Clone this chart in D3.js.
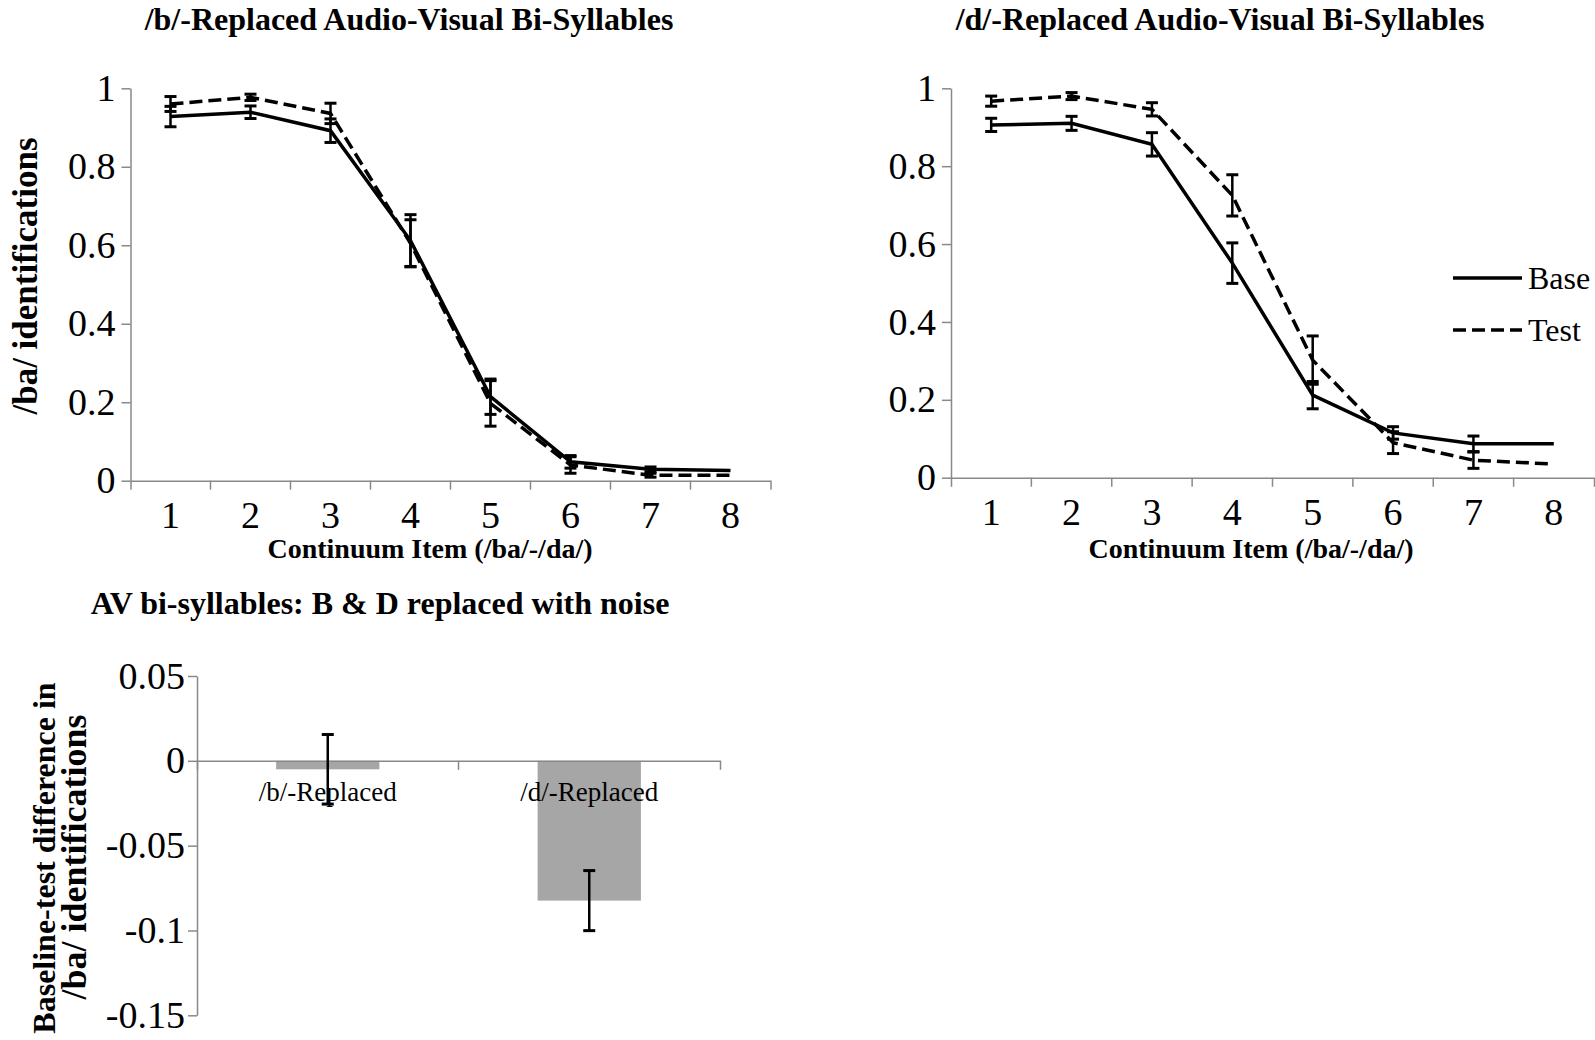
<!DOCTYPE html>
<html>
<head>
<meta charset="utf-8">
<script src="https://cdn.jsdelivr.net/npm/d3@7"></script>
<style>
  body { margin: 0; background: #fff; }
  svg { display: block; }
</style>
</head>
<body>
<div class="container"></div>
<script>
const w = 1595;
const h = 1040;
const serif = "'Liberation Serif', 'Times New Roman', serif";
const axisGrey = '#898989';
const barGrey = '#a6a6a6';
const tickFont = 38;

// line panels: continuum items 1..8
const items = ['1', '2', '3', '4', '5', '6', '7', '8'];
const yTicks = [0, 0.2, 0.4, 0.6, 0.8, 1];
const seriesNames = ['Base', 'Test'];

// /b/-replaced
const bBase = [0.928, 0.939, 0.892, 0.612, 0.214, 0.048, 0.029, 0.026];
const bBaseErr = [0.026, 0.016, 0.030, 0.066, 0.045, 0.016, 0.006, 0];
const bTest = [0.960, 0.977, 0.936, 0.605, 0.197, 0.040, 0.014, 0.014];
const bTestErr = [0.019, 0.008, 0.026, 0.060, 0.058, 0.021, 0.005, 0];

// /d/-replaced
const dBase = [0.906, 0.910, 0.856, 0.551, 0.212, 0.115, 0.087, 0.087];
const dBaseErr = [0.017, 0.018, 0.030, 0.052, 0.035, 0.016, 0.020, 0];
const dTest = [0.967, 0.980, 0.946, 0.725, 0.302, 0.090, 0.045, 0.035];
const dTestErr = [0.013, 0.009, 0.017, 0.053, 0.062, 0.028, 0.021, 0];

// bar panel: baseline - test difference
const barCats = ['/b/-Replaced', '/d/-Replaced'];
const diffVals = [-0.005, -0.0824];
const diffErr = [0.0205, 0.0177];
const diffTicks = [-0.15, -0.1, -0.05, 0, 0.05];

let svg = null;

const fmt = (d) => String(+d.toFixed(2));

function setSvg() {
  svg = d3.select('.container').append('svg')
    .attr('width', w)
    .attr('height', h)
    .attr('font-family', serif);
}

function styleAxis(g) {
  g.attr('font-family', serif).attr('font-size', tickFont);
  g.select('.domain').attr('stroke', axisGrey).attr('stroke-width', 1.5);
  g.selectAll('.tick line').attr('stroke', axisGrey).attr('stroke-width', 1.5);
  g.selectAll('.tick text').attr('fill', '#000');
}

function addText(txt, x, y, size, bold, rotate) {
  const t = svg.append('text')
    .text(txt)
    .attr('text-anchor', 'middle')
    .attr('font-size', size)
    .attr('font-weight', bold ? 'bold' : 'normal')
    .attr('fill', '#000');
  if (rotate) t.attr('transform', `translate(${x},${y}) rotate(-90)`);
  else t.attr('x', x).attr('y', y);
  return t;
}

function drawErrors(g, x, y, vals, errs) {
  const data = vals.map((v, i) => ({ c: items[i], v, e: errs[i] })).filter((d) => d.e > 0);
  const cx = (d) => x(d.c) + x.bandwidth() / 2;
  g.selectAll(null).data(data).join('line')
    .attr('x1', cx).attr('x2', cx)
    .attr('y1', (d) => y(d.v + d.e)).attr('y2', (d) => y(d.v - d.e))
    .attr('stroke', '#000').attr('stroke-width', 2.5);
  [1, -1].forEach((s) => {
    g.selectAll(null).data(data).join('line')
      .attr('x1', (d) => cx(d) - 6).attr('x2', (d) => cx(d) + 6)
      .attr('y1', (d) => y(d.v + s * d.e)).attr('y2', (d) => y(d.v + s * d.e))
      .attr('stroke', '#000').attr('stroke-width', 3);
  });
}

function drawLinePanel(p) {
  const x = d3.scaleBand().domain(items).range([p.x0, p.x1]);
  const y = d3.scaleLinear().domain([0, 1]).range([p.y0, p.y1]);
  const g = svg.append('g');

  const yAxis = g.append('g')
    .attr('transform', `translate(${p.x0},0)`)
    .call(d3.axisLeft(y).tickValues(yTicks).tickSize(9).tickSizeOuter(0).tickPadding(6).tickFormat(fmt));
  styleAxis(yAxis);

  const xAxis = g.append('g')
    .attr('transform', `translate(0,${p.y0})`)
    .call(d3.axisBottom(x).tickSize(0).tickSizeOuter(9).tickPadding(20));
  styleAxis(xAxis);
  xAxis.selectAll('.between').data(items.slice(1)).join('line')
    .attr('class', 'between')
    .attr('x1', (d) => x(d)).attr('x2', (d) => x(d))
    .attr('y1', 0).attr('y2', 9)
    .attr('stroke', axisGrey).attr('stroke-width', 1.5);

  const line = d3.line()
    .x((d, i) => x(items[i]) + x.bandwidth() / 2)
    .y((d) => y(d));

  drawErrors(g, x, y, p.base, p.baseErr);
  g.append('path').datum(p.base)
    .attr('d', line).attr('fill', 'none')
    .attr('stroke', '#000').attr('stroke-width', 3.5);

  drawErrors(g, x, y, p.test, p.testErr);
  g.append('path').datum(p.test)
    .attr('d', line).attr('fill', 'none')
    .attr('stroke', '#000').attr('stroke-width', 3.5)
    .attr('stroke-dasharray', '13,6');

  addText(p.title, p.titleX, 30, 32, true);
  addText('Continuum Item (/ba/-/da/)', p.xLabelX, 558, 28, true);
  if (p.yLabel) addText('/ba/ identifications', 37, 276, 35, true, true);

  if (p.legend) {
    const lg = svg.append('g').attr('transform', 'translate(1453,278)');
    const rows = lg.selectAll('g').data(seriesNames).join('g')
      .attr('transform', (d, i) => `translate(0,${i * 52})`);
    rows.append('line')
      .attr('x1', 0).attr('x2', 69).attr('y1', 0).attr('y2', 0)
      .attr('stroke', '#000').attr('stroke-width', 3.5)
      .attr('stroke-dasharray', (d, i) => (i ? '13,6' : null));
    rows.append('text')
      .text((d) => d)
      .attr('x', 75).attr('y', 11)
      .attr('font-size', 32);
  }
}

function drawBarPanel() {
  const x = d3.scaleBand().domain(barCats).range([197, 720]);
  const y = d3.scaleLinear().domain([-0.15, 0.05]).range([1015.3, 676]);
  const g = svg.append('g');
  const bw = x.bandwidth() * 0.395;
  const cx = (d) => x(d) + x.bandwidth() / 2;

  const yAxis = g.append('g')
    .attr('transform', 'translate(197,0)')
    .call(d3.axisLeft(y).tickValues(diffTicks).tickSize(9).tickSizeOuter(0).tickPadding(3).tickFormat(fmt));
  styleAxis(yAxis);

  g.selectAll('rect').data(barCats).join('rect')
    .attr('x', (d) => cx(d) - bw / 2)
    .attr('width', bw)
    .attr('y', y(0))
    .attr('height', (d, i) => y(diffVals[i]) - y(0))
    .attr('fill', barGrey);

  const xAxis = g.append('g')
    .attr('transform', `translate(0,${y(0)})`)
    .call(d3.axisBottom(x).tickSize(0).tickSizeOuter(9).tickFormat(''));
  styleAxis(xAxis);
  xAxis.selectAll('.between').data(barCats.slice(1)).join('line')
    .attr('class', 'between')
    .attr('x1', (d) => x(d)).attr('x2', (d) => x(d))
    .attr('y1', 0).attr('y2', 9)
    .attr('stroke', axisGrey).attr('stroke-width', 1.5);

  g.selectAll('.cat').data(barCats).join('text')
    .attr('class', 'cat')
    .text((d) => d)
    .attr('x', cx)
    .attr('y', y(0) + 40)
    .attr('text-anchor', 'middle')
    .attr('font-size', 27);

  g.selectAll('.err').data(barCats).join('line')
    .attr('class', 'err')
    .attr('x1', cx).attr('x2', cx)
    .attr('y1', (d, i) => y(diffVals[i] + diffErr[i]))
    .attr('y2', (d, i) => y(diffVals[i] - diffErr[i]))
    .attr('stroke', '#000').attr('stroke-width', 2.5);
  [1, -1].forEach((s) => {
    g.selectAll(null).data(barCats).join('line')
      .attr('x1', (d) => cx(d) - 6).attr('x2', (d) => cx(d) + 6)
      .attr('y1', (d, i) => y(diffVals[i] + s * diffErr[i]))
      .attr('y2', (d, i) => y(diffVals[i] + s * diffErr[i]))
      .attr('stroke', '#000').attr('stroke-width', 3);
  });

  addText('AV bi-syllables: B & D replaced with noise', 380, 614, 32, true);
  addText('Baseline-test difference in', 55, 858, 32, true, true);
  addText('/ba/ identifications', 86, 857, 36, true, true);
}

setSvg();
drawLinePanel({
  x0: 130.5, x1: 770.5, y0: 480.7, y1: 88.3,
  base: bBase, baseErr: bBaseErr, test: bTest, testErr: bTestErr,
  title: '/b/-Replaced Audio-Visual Bi-Syllables', titleX: 409, xLabelX: 430,
  yLabel: true, legend: false,
});
drawLinePanel({
  x0: 951, x1: 1594, y0: 477.7, y1: 88.3,
  base: dBase, baseErr: dBaseErr, test: dTest, testErr: dTestErr,
  title: '/d/-Replaced Audio-Visual Bi-Syllables', titleX: 1220, xLabelX: 1251,
  yLabel: false, legend: true,
});
drawBarPanel();
</script>
</body>
</html>
